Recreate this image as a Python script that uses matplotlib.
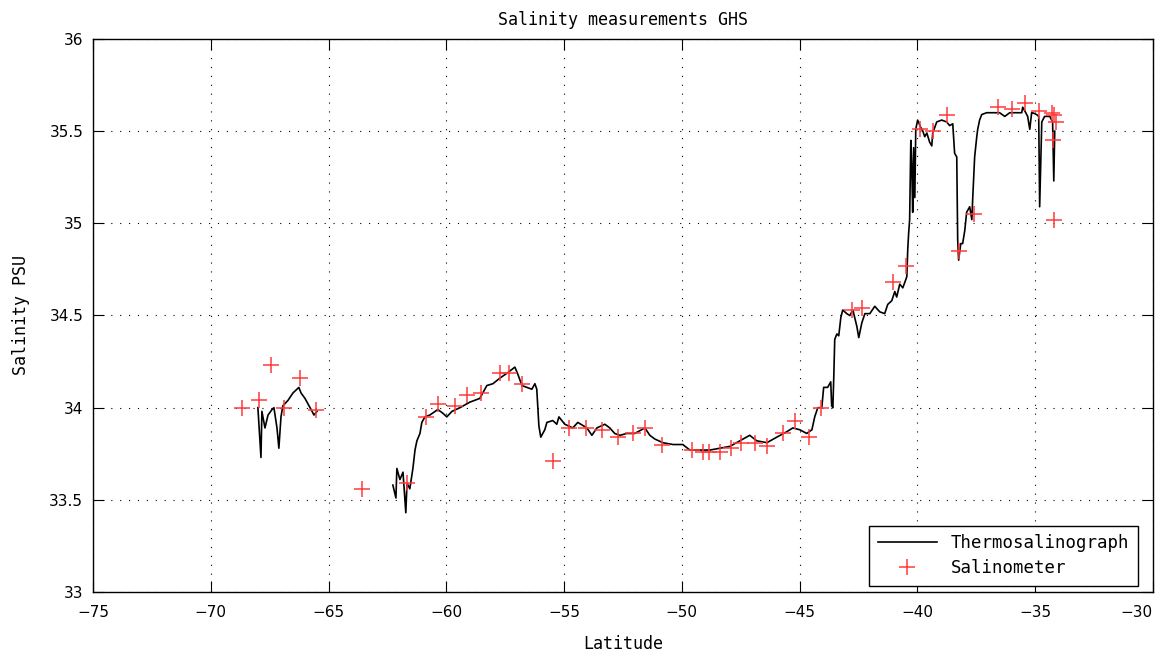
import numpy as np
import matplotlib
matplotlib.use("Agg")
import matplotlib.pyplot as plt

# thermosalinograph track, two pieces separated by a data gap
tsg_lat_a = [-68.00, -67.87, -67.83, -67.70, -67.57, -67.40, -67.32, -67.19, -67.11,
             -67.02, -66.94, -66.72, -66.51, -66.34, -66.26, -66.17, -66.00, -65.87,
             -65.70, -65.62, -65.49]
tsg_sal_a = [34.00, 33.73, 33.98, 33.89, 33.96, 33.99, 34.00, 33.89, 33.78,
             33.95, 34.01, 34.04, 34.08, 34.10, 34.11, 34.08, 34.05, 34.02,
             33.98, 33.96, 33.98]

tsg_lat_b = [-62.27, -62.14, -62.10, -61.97, -61.84, -61.72, -61.67, -61.55, -61.42,
             -61.33, -61.25, -61.12, -61.04, -60.91, -60.70, -60.36, -60.15, -59.98,
             -59.76, -59.42, -59.00, -58.58, -58.28, -58.02, -57.73, -57.39, -57.09,
             -56.96, -56.79, -56.58, -56.37, -56.24, -56.16, -56.07, -55.99, -55.82,
             -55.73, -55.48, -55.31, -55.22, -54.97, -54.63, -54.42, -54.03, -53.82,
             -53.61, -53.27, -53.06, -52.85, -52.63, -52.34, -52.00, -51.57, -51.36,
             -51.15, -50.81, -50.38, -49.96, -49.66, -49.24, -48.81, -48.39, -47.96,
             -47.54, -47.12, -46.82, -46.39, -45.97, -45.54, -45.29, -44.99, -44.70,
             -44.48, -44.36, -44.23, -44.06, -43.98, -43.81, -43.68, -43.64, -43.59,
             -43.55, -43.51, -43.42, -43.34, -43.25, -43.17, -43.00, -42.87, -42.74,
             -42.57, -42.49, -42.36, -42.23, -42.02, -41.81, -41.60, -41.39, -41.26,
             -41.09, -40.96, -40.88, -40.75, -40.62, -40.45, -40.41, -40.37, -40.33,
             -40.28, -40.24, -40.20, -40.16, -40.11, -40.07, -39.99, -39.86, -39.77,
             -39.69, -39.60, -39.48, -39.39, -39.35, -39.18, -38.97, -38.76, -38.63,
             -38.50, -38.42, -38.33, -38.29, -38.25, -38.16, -38.08, -37.99, -37.91,
             -37.78, -37.69, -37.65, -37.57, -37.48, -37.44, -37.36, -37.27, -37.06,
             -36.80, -36.51, -36.29, -36.08, -35.78, -35.57, -35.53, -35.40, -35.32,
             -35.23, -35.15, -35.11, -34.94, -34.85, -34.81, -34.72, -34.60, -34.38,
             -34.26, -34.21, -34.17]
tsg_sal_b = [33.58, 33.51, 33.67, 33.61, 33.65, 33.43, 33.59, 33.56, 33.67,
             33.77, 33.82, 33.86, 33.92, 33.95, 33.96, 33.99, 33.97, 33.95,
             33.98, 34.00, 34.03, 34.05, 34.12, 34.13, 34.16, 34.19, 34.22,
             34.18, 34.12, 34.11, 34.10, 34.13, 34.10, 33.90, 33.84, 33.88,
             33.92, 33.93, 33.91, 33.95, 33.91, 33.89, 33.92, 33.89, 33.85,
             33.89, 33.91, 33.89, 33.86, 33.85, 33.86, 33.86, 33.89, 33.85,
             33.83, 33.81, 33.80, 33.80, 33.77, 33.77, 33.77, 33.78, 33.79,
             33.82, 33.85, 33.82, 33.81, 33.84, 33.87, 33.89, 33.88, 33.86,
             33.88, 33.95, 34.00, 34.00, 34.11, 34.11, 34.14, 34.01, 34.00,
             34.17, 34.37, 34.40, 34.39, 34.49, 34.53, 34.51, 34.50, 34.53,
             34.44, 34.38, 34.46, 34.51, 34.51, 34.55, 34.52, 34.51, 34.56,
             34.58, 34.63, 34.60, 34.67, 34.65, 34.71, 34.86, 34.95, 35.02,
             35.45, 35.31, 35.06, 35.41, 35.14, 35.51, 35.56, 35.52, 35.50,
             35.47, 35.49, 35.44, 35.42, 35.49, 35.55, 35.56, 35.55, 35.53,
             35.54, 35.38, 35.36, 34.91, 34.80, 34.89, 34.89, 34.96, 35.06,
             35.09, 35.02, 35.14, 35.36, 35.47, 35.51, 35.56, 35.59, 35.60,
             35.60, 35.60, 35.58, 35.60, 35.60, 35.60, 35.63, 35.60, 35.58,
             35.51, 35.60, 35.60, 35.59, 35.58, 35.09, 35.55, 35.58, 35.58,
             35.55, 35.23, 35.50]

# bottle samples (salinometer)
bottle_lat = [-68.68, -67.95, -67.44, -66.89, -66.21, -65.53, -63.58, -61.67, -60.87,
              -60.36, -59.64, -59.13, -58.53, -57.73, -57.34, -56.79, -55.47, -54.80,
              -54.08, -53.40, -52.72, -52.08, -51.57, -50.85, -49.58, -49.11, -48.85,
              -48.39, -47.92, -47.50, -46.90, -46.39, -45.71, -45.20, -44.61, -44.10,
              -42.78, -42.36, -41.04, -40.49, -39.90, -39.35, -38.75, -38.24, -37.61,
              -36.59, -36.00, -35.44, -34.85, -34.30, -34.21, -34.13, -34.25, -34.21]
bottle_sal = [34.00, 34.04, 34.23, 34.00, 34.16, 33.99, 33.56, 33.59, 33.95,
              34.02, 34.01, 34.07, 34.08, 34.19, 34.19, 34.13, 33.71, 33.89,
              33.89, 33.88, 33.84, 33.86, 33.89, 33.80, 33.77, 33.76, 33.76,
              33.76, 33.78, 33.81, 33.81, 33.79, 33.86, 33.93, 33.84, 34.00,
              34.53, 34.54, 34.68, 34.77, 35.51, 35.50, 35.59, 34.85, 35.05,
              35.63, 35.62, 35.65, 35.61, 35.60, 35.59, 35.55, 35.45, 35.02]

xticks = np.arange(-75, -29, 5)
yticks = [33, 33.5, 34, 34.5, 35, 35.5, 36]
ytick_labels = ['33', '33.5', '34', '34.5', '35', '35.5', '36']

plt.rcParams['font.family'] = ['DejaVu Sans']
mono = 'DejaVu Sans Mono'

fig = plt.figure(figsize=(11.57, 6.54), dpi=100)
ax = fig.add_axes([0.0804, 0.0948, 0.9161, 0.8456])

tsg_lat = tsg_lat_a + [np.nan] + tsg_lat_b
tsg_sal = tsg_sal_a + [np.nan] + tsg_sal_b
ax.plot(tsg_lat, tsg_sal, color='black', linewidth=1.2, label='Thermosalinograph')
ax.plot(bottle_lat, bottle_sal, linestyle='none', marker='+', markersize=11,
        markeredgewidth=1.1, color='#ff3b3b', label='Salinometer')

ax.set_xlim(-75, -30)
ax.set_ylim(33, 36)
ax.set_xticks(xticks)
ax.set_yticks(yticks)
ax.set_yticklabels(ytick_labels)
ax.tick_params(direction='in', top=True, right=True, labelsize=11, length=8)
ax.tick_params(axis='x', pad=9)
ax.tick_params(axis='y', pad=7)
# last x label is pulled inside the figure, like the original
ax.get_xticklabels()[-1].set_horizontalalignment('right')
ax.grid(True, color='black', linestyle=(0, (1, 7)), linewidth=0.8)
for s in ax.spines.values():
    s.set_linewidth(1.0)

ax.set_title("Salinity measurements GHS", fontsize=12, family=mono, pad=10)
ax.set_xlabel("Latitude", fontsize=12, family=mono, labelpad=11)
ax.set_ylabel("Salinity PSU", fontsize=12, family=mono, labelpad=14)

leg = ax.legend(loc='lower right', bbox_to_anchor=(0.9858, 0.0108), borderaxespad=0,
                prop={'family': mono, 'size': 12.5}, fancybox=False, framealpha=1,
                edgecolor='black', handlelength=3.4, borderpad=0.5, labelspacing=0.4)
leg.get_frame().set_linewidth(1.0)

fig.savefig("out.png", dpi=100)
